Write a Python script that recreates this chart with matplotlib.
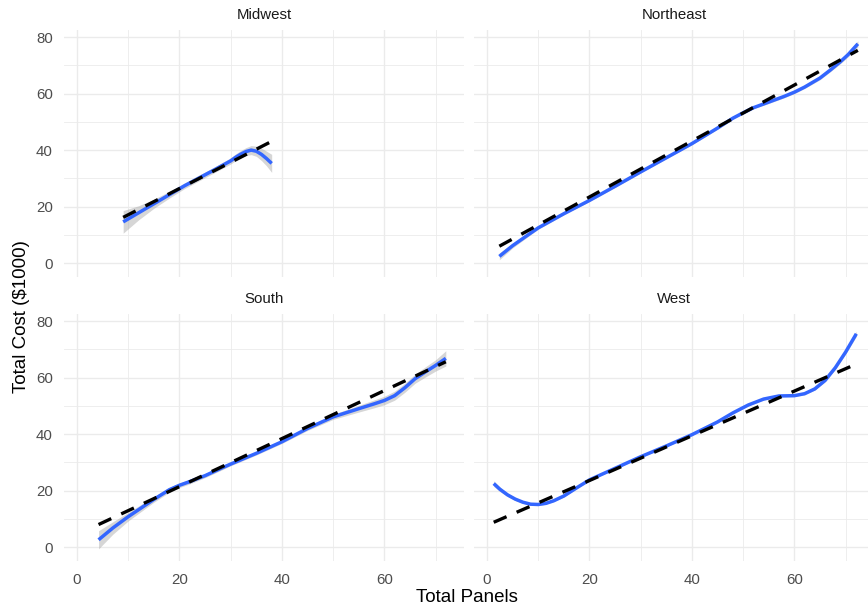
import matplotlib
matplotlib.use("Agg")
import matplotlib.pyplot as plt
import numpy as np

plt.rcParams["font.family"] = ["Liberation Sans", "DejaVu Sans"]

# Facet order
regions = ["Midwest", "Northeast", "South", "West"]

# Loess fits (x, fitted cost, standard error half-width) per region
midwest_x = [9, 12, 15, 18, 21, 24, 27, 30, 31, 32, 33, 34, 35, 36, 37, 38]
midwest_fit = [14.6, 17.8, 21.0, 24.2, 27.4, 30.3, 33.2, 36.2, 37.5, 38.6, 39.5, 40.0, 39.6, 38.5, 37.0, 35.3]
midwest_se = [4.0, 2.5, 1.6, 1.2, 1.0, 1.0, 1.0, 1.1, 1.2, 1.3, 1.4, 1.6, 1.8, 2.2, 2.6, 3.2]

northeast_x = [2.4, 5, 8, 10, 15, 20, 25, 30, 35, 40, 45, 48, 50, 52, 55, 58, 60, 62, 65, 67, 69, 70.5, 72.4]
northeast_fit = [2.4, 6.2, 10.0, 12.5, 17.5, 22.2, 27.2, 32.3, 37.3, 42.3, 47.8, 51.3, 53.2, 55.0, 57.0, 59.0,
                 60.5, 62.3, 65.5, 68.3, 71.3, 73.8, 77.6]
northeast_se = [1.2, 0.8, 0.6, 0.5, 0.4, 0.4, 0.4, 0.4, 0.4, 0.4, 0.4, 0.4, 0.4, 0.4, 0.5, 0.5,
                0.5, 0.5, 0.6, 0.6, 0.7, 0.8, 1.1]

south_x = [4.2, 7, 10, 15, 18, 20, 22, 25, 28, 30, 35, 40, 45, 50, 55, 58, 60, 62, 64, 66, 68, 70, 72]
south_fit = [2.6, 6.8, 10.8, 16.9, 20.3, 21.9, 23.2, 25.3, 27.8, 29.4, 33.2, 37.3, 42.0, 46.1, 49.0, 50.7,
             51.9, 53.6, 56.4, 59.6, 62.0, 64.3, 66.8]
south_se = [3.2, 2.2, 1.5, 1.0, 0.9, 0.8, 0.8, 0.7, 0.7, 0.6, 0.6, 0.6, 0.7, 0.9, 1.2, 1.4,
            1.5, 1.6, 1.6, 1.6, 1.8, 2.0, 2.7]

west_x = [1.3, 2.5, 4, 5.5, 7, 8.5, 10, 11.5, 13, 15, 17.5, 20, 25, 30, 35, 40, 45, 48, 51, 54,
          57, 60, 62, 64, 66, 68, 70, 72.1]
west_fit = [22.5, 20.5, 18.5, 17.0, 15.9, 15.2, 15.1, 15.5, 16.4, 18.1, 21.0, 23.8, 27.9, 32.0, 35.8, 39.8,
            44.3, 47.5, 50.3, 52.4, 53.5, 53.6, 54.3, 56.0, 59.0, 63.5, 69.0, 75.5]
west_se = [1.0, 0.8, 0.6, 0.5, 0.4, 0.4, 0.4, 0.3, 0.3, 0.3, 0.3, 0.3, 0.3, 0.3, 0.3, 0.3,
           0.3, 0.3, 0.3, 0.3, 0.3, 0.3, 0.4, 0.4, 0.5, 0.6, 0.7, 0.9]

# Linear fits: endpoints (x range of the data, fitted values)
midwest_lm_x, midwest_lm_y = [9, 38], [16.2, 43.1]
northeast_lm_x, northeast_lm_y = [2.4, 72.4], [6.0, 75.3]
south_lm_x, south_lm_y = [4.2, 72.0], [8.0, 65.6]
west_lm_x, west_lm_y = [1.3, 72.1], [8.8, 64.8]

x_ticks = [0, 20, 40, 60]
y_ticks = [0, 20, 40, 60, 80]

fits = {
    "Midwest": (midwest_x, midwest_fit, midwest_se, midwest_lm_x, midwest_lm_y),
    "Northeast": (northeast_x, northeast_fit, northeast_se, northeast_lm_x, northeast_lm_y),
    "South": (south_x, south_fit, south_se, south_lm_x, south_lm_y),
    "West": (west_x, west_fit, west_se, west_lm_x, west_lm_y),
}

W, H = 868, 608
fig = plt.figure(figsize=(W / 100, H / 100), dpi=100)
fig.patch.set_facecolor("white")

# Panel geometry in pixels (left, top, width, height)
col_left = [64, 474]
row_top = [30, 314]
pw, ph = 400, 247

grid_col = "#EBEBEB"
tick_col = "#4D4D4D"

for i, name in enumerate(regions):
    r, c = divmod(i, 2)
    left = col_left[c] / W
    bottom = 1 - (row_top[r] + ph) / H
    ax = fig.add_axes([left, bottom, pw / W, ph / H])
    ax.set_facecolor("white")
    ax.set_xlim(-2.55, 75.55)
    ax.set_ylim(-4.9, 82.5)
    for s in ax.spines.values():
        s.set_visible(False)
    ax.set_xticks(x_ticks)
    ax.set_yticks(y_ticks)
    ax.set_xticks([10, 30, 50, 70], minor=True)
    ax.set_yticks([10, 30, 50, 70], minor=True)
    ax.grid(True, which="major", color=grid_col, lw=1.0)
    ax.grid(True, which="minor", color=grid_col, lw=0.6)
    ax.set_axisbelow(True)
    ax.tick_params(which="both", length=0)
    ax.tick_params(axis="x", pad=9, labelsize=10.8, labelcolor=tick_col)
    ax.tick_params(axis="y", pad=8, labelsize=10.8, labelcolor=tick_col)
    if r == 0:
        ax.set_xticklabels([])
    if c == 1:
        ax.set_yticklabels([])

    xs, fit, se, lx, ly = fits[name]
    xs = np.asarray(xs)
    fit = np.asarray(fit)
    se = np.asarray(se)
    ax.fill_between(xs, fit - se, fit + se, color="#999999", alpha=0.4, lw=0, zorder=2)
    ax.plot(xs, fit, color="#3366FF", lw=2.5, solid_capstyle="butt",
            solid_joinstyle="round", zorder=3)
    ax.plot(lx, ly, color="black", lw=2.4, ls=(0, (4.2, 3.3)), dash_capstyle="butt", zorder=4)

    fig.text((col_left[c] + pw / 2) / W, 1 - (row_top[r] - 15) / H, name,
             ha="center", va="center", fontsize=10.8, color="#1A1A1A")

fig.text(467 / W, 1 - 597 / H, "Total Panels", ha="center", va="center", fontsize=13.5)
fig.text(22 / W, 1 - 317 / H, "Total Cost ($1000)", ha="center", va="center",
         rotation=90, fontsize=13.5)

fig.savefig("out.png", dpi=100, facecolor="white")
